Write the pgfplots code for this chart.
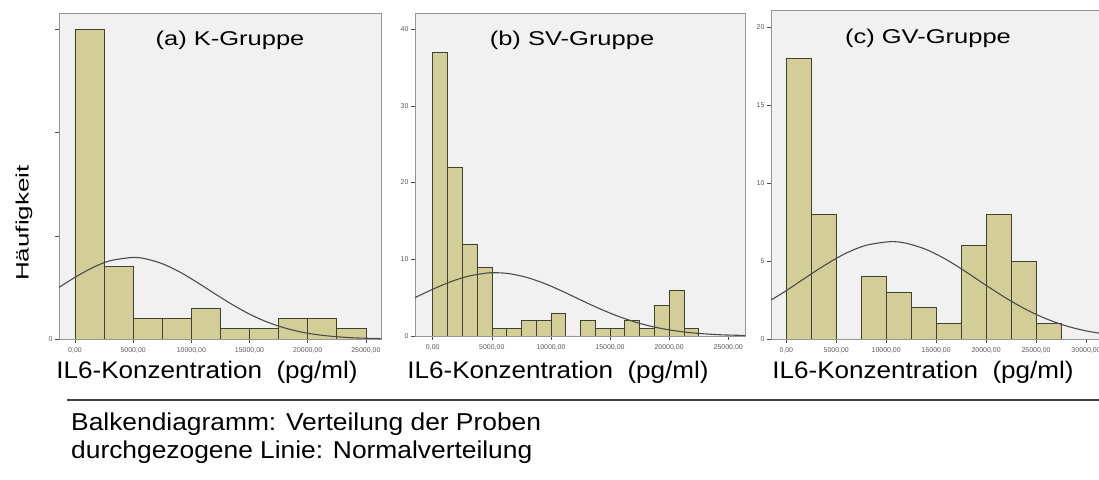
\documentclass[border=0pt]{standalone}
\usepackage{fontspec}
\setmainfont{Liberation Sans}
\usepackage{graphicx}
\usepackage{pgfplots}
\pgfplotsset{compat=1.18}
\definecolor{barfill}{RGB}{211,206,152}
\definecolor{barline}{RGB}{65,65,50}
\definecolor{bgc}{RGB}{240,241,240}
\definecolor{framec}{RGB}{150,150,150}
\definecolor{curvec}{RGB}{75,75,75}
\pgfplotsset{
  hist/.style={
    scale only axis,
    axis background/.style={fill=bgc},
    axis line style={framec, line width=0.8pt},
    ymin=0,
    scaled x ticks=false, scaled y ticks=false,
    tick align=outside,
    xtick pos=left, ytick pos=left,
    major tick length=4bp,
    tick style={black!70, line width=0.6pt},
    /pgf/number format/assume math mode=true,
    tick label style={font=\fontsize{7}{8}\selectfont, text=black!65},
    xticklabel style={yshift=-1bp},
    yticklabel style={xshift=1bp},
    clip=true,
  },
  bars/.style={ybar interval, fill=barfill, draw=barline, line width=0.65pt},
  curve/.style={curvec, line width=1.1pt, smooth},
}
\begin{document}
\begin{tikzpicture}
\useasboundingbox (0,0) rectangle (1099bp,480bp);
% (a) K-Gruppe
\begin{axis}[hist, at={(59bp,141bp)}, anchor=south west,
  width=322bp, height=326bp,
  xmin=-1375, xmax=26300, ymax=31.6,
  xtick={0,5000,10000,15000,20000,25000},
  xticklabels={{0,00},{5000,00},{10000,00},{15000,00},{20000,00},{25000,00}},
  ytick={0,10,20,30}, yticklabels={0,{},{},{}}]
\addplot[bars] coordinates {(0,30)(2500,7)(5000,2)(7500,2)(10000,3)(12500,1)(15000,1)(17500,2)(20000,2)(22500,1)(25000,1)};
\addplot[curve] coordinates {(-1375,5.00)(0,5.98)(1500,6.91)(3000,7.58)(4900,7.90)(6000,7.79)(7500,7.30)(9000,6.50)(10500,5.49)(12000,4.40)(13500,3.35)(15000,2.41)(16500,1.65)(18000,1.08)(19500,0.66)(21000,0.39)(22500,0.22)(24000,0.11)(25500,0.06)(26300,0.04)};
\end{axis}
% (b) SV-Gruppe
\begin{axis}[hist, at={(415bp,144bp)}, anchor=south west,
  width=330bp, height=323bp,
  xmin=-1500, xmax=26420, ymax=42.1,
  xtick={0,5000,10000,15000,20000,25000},
  xticklabels={{0,00},{5000,00},{10000,00},{15000,00},{20000,00},{25000,00}},
  ytick={0,10,20,30,40}]
\addplot[bars] coordinates {(0,37)(1250,22)(2500,12)(3750,9)(5000,1)(6250,1)(7500,2)(8750,2)(10000,3)(11250,0)(12500,2)(13750,1)(15000,1)(16250,2)(17500,1)(18750,4)(20000,6)(21250,1)(22500,1)};
\addplot[curve] coordinates {(-1500,5.00)(0,6.09)(1500,7.06)(3000,7.79)(4500,8.19)(5300,8.25)(6500,8.12)(8000,7.62)(9500,6.82)(11000,5.81)(12500,4.71)(14000,3.64)(15500,2.68)(17000,1.88)(18500,1.25)(20000,0.80)(21500,0.48)(23000,0.28)(24500,0.15)(26420,0.07)};
\end{axis}
% (c) GV-Gruppe
\begin{axis}[hist, at={(771bp,141bp)}, anchor=south west,
  width=345bp, height=329bp,
  xmin=-1530, xmax=33000, ymax=21.1,
  xtick={0,5000,10000,15000,20000,25000,30000},
  xticklabels={{0,00},{5000,00},{10000,00},{15000,00},{20000,00},{25000,00},{30000,00}},
  ytick={0,5,10,15,20}]
\addplot[bars] coordinates {(0,18)(2500,8)(5000,0)(7500,4)(10000,3)(12500,2)(15000,1)(17500,6)(20000,8)(22500,5)(25000,1)(27500,1)};
\addplot[curve] coordinates {(-1530,2.50)(0,3.10)(2000,3.96)(4000,4.79)(6000,5.51)(8000,6.01)(10400,6.24)(12000,6.14)(14000,5.74)(16000,5.10)(18000,4.30)(20000,3.44)(22000,2.62)(24000,1.89)(26000,1.30)(28000,0.84)(30000,0.52)(32000,0.31)(33000,0.23)};
\end{axis}
% titles
\node[font=\fontsize{20}{24}\selectfont] at (230bp,440bp) {\scalebox{1.28}[1]{(a) K-Gruppe}};
\node[font=\fontsize{20}{24}\selectfont] at (572bp,440bp) {\scalebox{1.28}[1]{(b) SV-Gruppe}};
\node[font=\fontsize{20}{24}\selectfont] at (928bp,442bp) {\scalebox{1.28}[1]{(c) GV-Gruppe}};
% x labels
\node[font=\fontsize{24}{28}\selectfont] at (207bp,108bp) {\scalebox{1.09}[1]{IL6-Konzentration~~(pg/ml)}};
\node[font=\fontsize{24}{28}\selectfont] at (558bp,108bp) {\scalebox{1.09}[1]{IL6-Konzentration~~(pg/ml)}};
\node[font=\fontsize{24}{28}\selectfont] at (923bp,108bp) {\scalebox{1.09}[1]{IL6-Konzentration~~(pg/ml)}};
% y label
\node[font=\fontsize{18}{22}\selectfont, rotate=90] at (24bp,257bp) {\scalebox{1.45}[1]{Häufigkeit}};
% separator and notes
\draw[black!75, line width=1.5bp] (67bp,80bp) -- (1099bp,80bp);
\node[font=\fontsize{24.5}{28}\selectfont, anchor=base west, inner sep=0pt] at (71bp,49bp) {\scalebox{1.08}[1]{Balkendiagramm: Verteilung der Proben}};
\node[font=\fontsize{24.5}{28}\selectfont, anchor=base west, inner sep=0pt] at (71bp,22bp) {\scalebox{1.08}[1]{durchgezogene Linie: Normalverteilung}};
\end{tikzpicture}
\end{document}
